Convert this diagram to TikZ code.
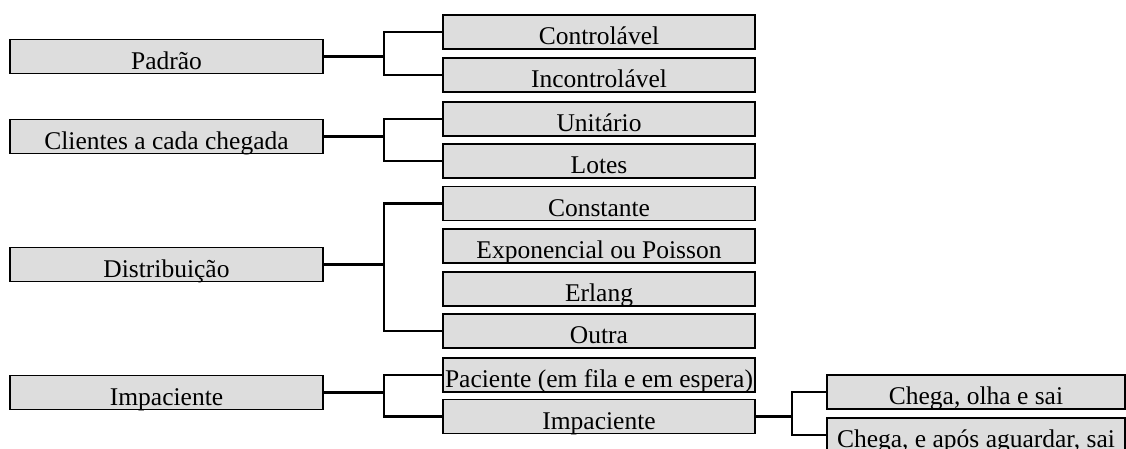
\documentclass[tikz,border=0pt]{standalone}
\usepackage{fontspec}
\setmainfont{Liberation Serif}
\usetikzlibrary{positioning}

\definecolor{boxgray}{RGB}{221,221,221}

\begin{document}
\begin{tikzpicture}[x=1pt, y=-1pt,
    box/.style={draw, line width=1.7pt, fill=boxgray, rectangle, inner sep=0pt,
        minimum width=312pt, text height=29.5pt, text depth=4.5pt,
        font=\fontsize{25.5}{30}\selectfont},
    leftbox/.style={box, minimum width=313pt},
    subbox/.style={box, minimum width=298pt},
    link/.style={line width=2.2pt}]

    % Define variables/columns
    \def\Lx{166.5}
    \def\Rx{599}
    \def\Sx{976}
    \def\Fork{60pt}

    \useasboundingbox (0,0) rectangle (1126,448);

    % Left column
    \node[leftbox] (padrao)   at (\Lx, 56.5)  {Padrão};
    \node[leftbox] (clientes) at (\Lx, 136.5) {Clientes a cada chegada};
    \node[leftbox] (distrib)  at (\Lx, 264.5) {Distribuição};
    \node[leftbox] (impac)    at (\Lx, 392.5) {Impaciente};

    % Middle column
    \node[box] (control)   at (\Rx, 32)    {Controlável};
    \node[box] (incontrol) at (\Rx, 75)    {Incontrolável};
    \node[box] (unitario)  at (\Rx, 119)   {Unitário};
    \node[box] (lotes)     at (\Rx, 161)   {Lotes};
    \node[box] (constante) at (\Rx, 203.5) {Constante};
    \node[box] (expon)     at (\Rx, 246)   {Exponencial ou Poisson};
    \node[box] (erlang)    at (\Rx, 289)   {Erlang};
    \node[box] (outra)     at (\Rx, 331)   {Outra};
    \node[box] (paciente)  at (\Rx, 375)   {Paciente (em fila e em espera)};
    \node[box] (impac2)    at (\Rx, 416.5) {Impaciente};

    % Right column
    \node[subbox] (olha)   at (\Sx, 392) {Chega, olha e sai};
    \node[subbox] (aguard) at (\Sx, 435) {Chega, e após aguardar, sai};

    % Forks
    \draw[link] (padrao.east) -- ++(\Fork,0) |- (control.west);
    \draw[link] (padrao.east) -- ++(\Fork,0) |- (incontrol.west);
    \draw[link] (clientes.east) -- ++(\Fork,0) |- (unitario.west);
    \draw[link] (clientes.east) -- ++(\Fork,0) |- (lotes.west);
    \draw[link] (distrib.east) -- ++(\Fork,0) |- (constante.west);
    \draw[link] (distrib.east) -- ++(\Fork,0) |- (outra.west);
    \draw[link] (impac.east) -- ++(\Fork,0) |- (paciente.west);
    \draw[link] (impac.east) -- ++(\Fork,0) |- (impac2.west);
    \draw[link] (impac2.east) -- ++(36pt,0) |- (olha.west);
    \draw[link] (impac2.east) -- ++(36pt,0) |- (aguard.west);

\end{tikzpicture}
\end{document}
